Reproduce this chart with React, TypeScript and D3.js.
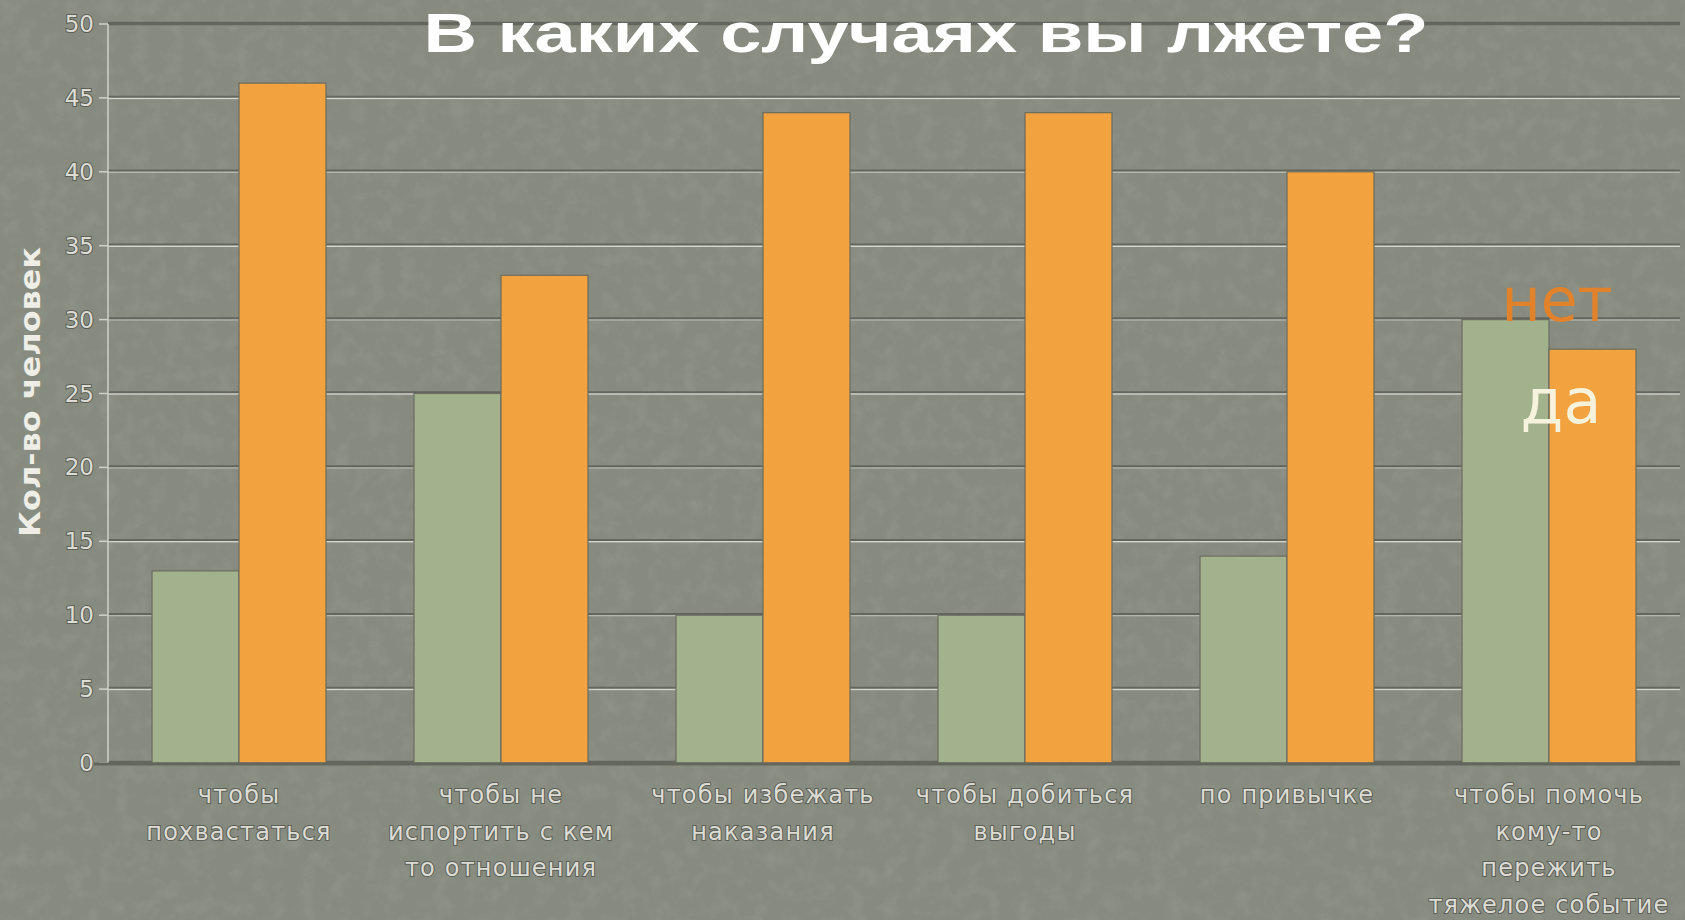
import React, { useEffect, useRef } from 'react';
import * as d3 from 'd3';

// Chart data
const categories = [
    'чтобы похвастаться',
    'чтобы не испортить с кем то отношения',
    'чтобы избежать наказания',
    'чтобы добиться выгоды',
    'по привычке',
    'чтобы помочь кому-то пережить тяжелое событие'
];
// how each category label is broken into lines
const categoryLines = [
    ['чтобы', 'похвастаться'],
    ['чтобы не', 'испортить с кем', 'то отношения'],
    ['чтобы избежать', 'наказания'],
    ['чтобы добиться', 'выгоды'],
    ['по привычке'],
    ['чтобы помочь', 'кому-то', 'пережить', 'тяжелое событие']
];
const seriesNames = ['да', 'нет'];
const daValues = [13, 25, 10, 10, 14, 30];
const netValues = [46, 33, 44, 44, 40, 28];
const yTicks = [0, 5, 10, 15, 20, 25, 30, 35, 40, 45, 50];

const App: React.FC = () => {
    const chartRef = useRef<SVGSVGElement>(null);

    useEffect(() => {
        if (!chartRef.current) return;
        d3.select(chartRef.current).selectAll('*').remove();

        const width = 1685;
        const height = 920;
        const plotLeft = 108;
        const plotRight = 1680;
        const plotTop = 24;
        const plotBottom = 763;

        const svg = d3.select(chartRef.current)
            .attr('width', width)
            .attr('height', height)
            .attr('viewBox', `0 0 ${width} ${height}`);

        // subtle stone texture
        const defs = svg.append('defs');
        const f = defs.append('filter').attr('id', 'grain')
            .attr('x', 0).attr('y', 0).attr('width', '100%').attr('height', '100%');
        f.append('feTurbulence').attr('type', 'fractalNoise')
            .attr('baseFrequency', 0.06).attr('numOctaves', 4).attr('seed', 4);
        f.append('feColorMatrix').attr('type', 'matrix')
            .attr('values', '0 0 0 0 0.42  0 0 0 0 0.44  0 0 0 0 0.39  0 0 0 -1.4 0.8');
        f.append('feComposite').attr('in2', 'SourceGraphic').attr('operator', 'in');

        svg.append('rect').attr('width', width).attr('height', height).attr('fill', '#878b7f');
        svg.append('rect').attr('width', width).attr('height', height)
            .attr('fill', '#878b7f').attr('filter', 'url(#grain)').attr('opacity', 0.3);

        const x = d3.scaleBand()
            .domain(categories)
            .range([plotLeft, plotRight])
            .paddingInner(0.336)
            .paddingOuter(0.168);

        const xInner = d3.scaleBand()
            .domain(seriesNames)
            .range([0, x.bandwidth()]);

        const y = d3.scaleLinear()
            .domain([0, 50])
            .range([plotBottom, plotTop]);

        // gridlines
        const grid = svg.append('g');
        yTicks.forEach((t, i) => {
            const yy = y(t);
            grid.append('line')
                .attr('x1', plotLeft).attr('x2', plotRight)
                .attr('y1', yy - 0.5).attr('y2', yy - 0.5)
                .attr('stroke', '#62665c').attr('stroke-width', 3.5);
            if (t !== 0 && t !== 50) {
                grid.append('line')
                    .attr('x1', plotLeft).attr('x2', plotRight)
                    .attr('y1', yy + 0.5).attr('y2', yy + 0.5)
                    .attr('stroke', i % 2 === 1 ? '#d4d6cc' : '#b4b7ac')
                    .attr('stroke-width', 1.5);
            }
        });

        // y axis line and ticks
        svg.append('line')
            .attr('x1', plotLeft).attr('x2', plotLeft)
            .attr('y1', plotTop).attr('y2', plotBottom)
            .attr('stroke', '#cfd1c7').attr('stroke-width', 1.5);
        svg.append('g').selectAll('line.tick')
            .data(yTicks)
            .enter()
            .append('line')
            .attr('x1', plotLeft - 9).attr('x2', plotLeft)
            .attr('y1', d => y(d)).attr('y2', d => y(d))
            .attr('stroke', '#cfd1c7').attr('stroke-width', 1.5);

        svg.append('g').selectAll('text')
            .data(yTicks)
            .enter()
            .append('text')
            .attr('x', plotLeft - 14)
            .attr('y', d => y(d))
            .attr('dy', '0.35em')
            .attr('text-anchor', 'end')
            .attr('font-family', 'DejaVu Sans, sans-serif')
            .attr('font-size', 23)
            .attr('fill', '#dcdcd4')
            .attr('stroke', '#5c5f56')
            .attr('stroke-width', 2)
            .attr('paint-order', 'stroke')
            .text(d => d);

        // bars
        const rows = categories.map((c, i) => ({ c, values: [daValues[i], netValues[i]] }));
        const colors = d3.scaleOrdinal<string>().domain(seriesNames).range(['#a2b28d', '#f2a23f']);

        const groups = svg.append('g').selectAll('g')
            .data(rows)
            .enter()
            .append('g')
            .attr('transform', d => `translate(${x(d.c)},0)`);

        groups.selectAll('rect')
            .data(d => d.values.map((v, k) => ({ key: seriesNames[k], v })))
            .enter()
            .append('rect')
            .attr('x', d => xInner(d.key) as number)
            .attr('y', d => y(d.v))
            .attr('width', xInner.bandwidth())
            .attr('height', d => plotBottom - y(d.v))
            .attr('fill', d => colors(d.key))
            .attr('stroke', '#6b6b5f')
            .attr('stroke-width', 1.2);

        // baseline
        svg.append('line')
            .attr('x1', plotLeft - 14).attr('x2', plotRight)
            .attr('y1', plotBottom + 1).attr('y2', plotBottom + 1)
            .attr('stroke', '#62665c').attr('stroke-width', 3);

        // category labels
        const labels = svg.append('g').selectAll('text')
            .data(categories)
            .enter()
            .append('text')
            .attr('text-anchor', 'middle')
            .attr('font-family', 'DejaVu Sans, sans-serif')
            .attr('font-size', 24)
            .attr('letter-spacing', 1.2)
            .attr('fill', '#dcdcd4')
            .attr('stroke', '#5c5f56')
            .attr('stroke-width', 2)
            .attr('paint-order', 'stroke');
        labels.each(function (c, i) {
            const cx = (x(c) as number) + x.bandwidth() / 2;
            categoryLines[i].forEach((line, j) => {
                d3.select(this).append('tspan')
                    .attr('x', cx)
                    .attr('y', 803 + j * 36.5)
                    .text(line);
            });
        });

        // y axis title
        svg.append('text')
            .attr('transform', `translate(40, 392) rotate(-90)`)
            .attr('text-anchor', 'middle')
            .attr('font-family', 'DejaVu Sans, sans-serif')
            .attr('font-size', 29)
            .attr('font-weight', 'bold')
            .attr('fill', '#eeeee6')
            .attr('textLength', 290)
            .attr('lengthAdjust', 'spacingAndGlyphs')
            .text('Кол-во человек');

        // chart title
        svg.append('text')
            .attr('x', 926)
            .attr('y', 52)
            .attr('text-anchor', 'middle')
            .attr('font-family', 'Liberation Sans, Arial, sans-serif')
            .attr('font-size', 56)
            .attr('font-weight', 'bold')
            .attr('fill', '#ffffff')
            .attr('textLength', 1005)
            .attr('lengthAdjust', 'spacingAndGlyphs')
            .text('В каких случаях вы лжете?');

        // legend labels
        const lastCenter = (x(categories[5]) as number) + x.bandwidth() / 2;
        svg.append('text')
            .attr('x', lastCenter + 8)
            .attr('y', 321)
            .attr('text-anchor', 'middle')
            .attr('font-family', 'DejaVu Sans, sans-serif')
            .attr('font-size', 60)
            .attr('fill', '#e2822b')
            .text(seriesNames[1]);
        svg.append('text')
            .attr('x', lastCenter + 12)
            .attr('y', 423)
            .attr('text-anchor', 'middle')
            .attr('font-family', 'DejaVu Sans, sans-serif')
            .attr('font-size', 62)
            .attr('fill', '#f6f2dc')
            .text(seriesNames[0]);
    }, []);

    return (
        <div style={{ position: 'absolute', left: 0, top: 0 }}>
            <svg ref={chartRef} style={{ display: 'block' }}></svg>
        </div>
    );
};

export default App;
